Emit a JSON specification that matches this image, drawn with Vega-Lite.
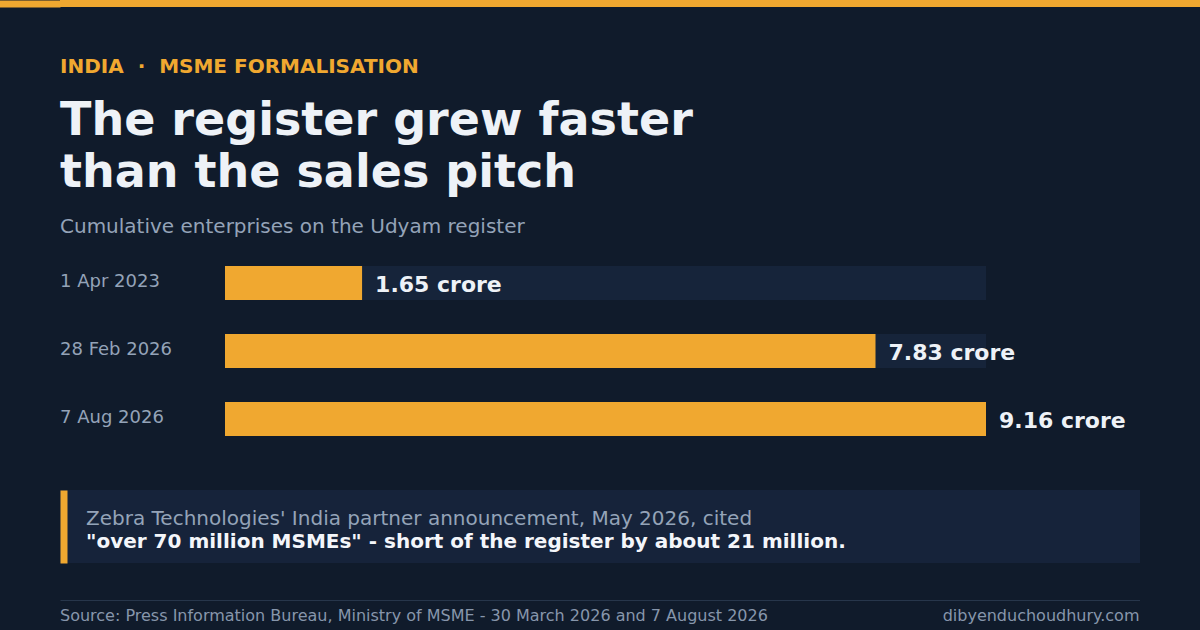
{
  "$schema": "https://vega.github.io/schema/vega-lite/v6.json",
  "background": "#101b2b",
  "padding": {"left": 0, "top": 0, "right": 0, "bottom": 2},
  "config": {"font": "DejaVu Sans", "view": {"stroke": null}},
  "spacing": 50,
  "vconcat": [
    {
      "width": 1140,
      "height": 7,
      "view": {"fill": "#f0a830", "stroke": null},
      "data": {"values": [{}]},
      "mark": {"type": "point", "opacity": 0},
      "encoding": {
        "y": {"datum": 0.5, "type": "quantitative", "scale": {"domain": [0, 1]},
          "axis": {"orient": "left", "offset": 60, "domainWidth": 120, "domainColor": "#f0a830",
            "labels": false, "ticks": false, "grid": false, "title": null}}
      }
    },
    {
      "title": {
        "text": "INDIA\u00a0\u00a0·\u00a0\u00a0MSME FORMALISATION",
        "subtitle": ["The register grew faster", "than the sales pitch"],
        "anchor": "start",
        "color": "#f0a830",
        "fontSize": 20,
        "fontWeight": "bold",
        "subtitleColor": "#eef2f7",
        "subtitleFontSize": 46,
        "subtitleFontWeight": "bold",
        "subtitleLineHeight": 52,
        "subtitlePadding": 22,
        "offset": 21
      },
      "spacing": 37,
      "vconcat": [
        {
          "title": {
            "text": "Cumulative enterprises on the Udyam register",
            "anchor": "start",
            "baseline": "alphabetic",
            "fontSize": 20,
            "fontWeight": "normal",
            "color": "#94a3b8",
            "offset": -4
          },
          "data": {"values": [
            {"date": "1 Apr 2023", "crore": 1.65, "label": "1.65 crore"},
            {"date": "28 Feb 2026", "crore": 7.83, "label": "7.83 crore"},
            {"date": "7 Aug 2026", "crore": 9.16, "label": "9.16 crore"}
          ]},
          "spacing": 0,
          "hconcat": [
            {
              "width": 165,
              "height": 204,
              "mark": {"type": "text", "align": "left", "baseline": "alphabetic", "dy": 4,
                "fontSize": 18, "color": "#94a3b8"},
              "encoding": {
                "y": {"field": "date", "type": "nominal", "sort": null,
                  "scale": {"paddingInner": 0.5, "paddingOuter": 0.25}, "axis": null},
                "x": {"datum": 0, "type": "quantitative", "scale": {"domain": [0, 1]}, "axis": null},
                "text": {"field": "date"}
              }
            },
            {
              "width": 761,
              "height": 204,
              "transform": [{"joinaggregate": [{"op": "max", "field": "crore", "as": "maxc"}]}],
              "encoding": {
                "y": {"field": "date", "type": "nominal", "sort": null,
                  "scale": {"paddingInner": 0.5, "paddingOuter": 0.25}, "axis": null}
              },
              "layer": [
                {
                  "mark": {"type": "bar", "color": "#16243a"},
                  "encoding": {
                    "x": {"field": "maxc", "type": "quantitative", "scale": {"nice": false}, "axis": null}
                  }
                },
                {
                  "mark": {"type": "bar", "color": "#f0a830"},
                  "encoding": {
                    "x": {"field": "crore", "type": "quantitative", "axis": null}
                  }
                },
                {
                  "mark": {"type": "text", "align": "left", "baseline": "alphabetic", "dx": 13, "dy": 8.5,
                    "fontSize": 22, "fontWeight": "bold", "color": "#eef2f7"},
                  "encoding": {
                    "x": {"field": "crore", "type": "quantitative", "axis": null},
                    "text": {"field": "label"}
                  }
                }
              ]
            }
          ]
        },
        {
          "width": 1080,
          "height": 73,
          "view": {"fill": "#16233a", "stroke": null},
          "data": {"values": [
            {"line": 1, "text": "Zebra Technologies' India partner announcement, May 2026, cited"},
            {"line": 2, "text": "\"over 70 million MSMEs\" - short of the register by about 21 million."}
          ]},
          "encoding": {
            "y": {
              "field": "line",
              "type": "ordinal",
              "scale": {"type": "point", "padding": 1},
              "axis": {"title": null, "labels": false, "ticks": false, "grid": false, "domain": true,
                "domainColor": "#f0a830", "domainWidth": 7, "offset": -3.5, "zindex": 1}
            },
            "x": {"datum": 0, "type": "quantitative", "scale": {"domain": [0, 1]}, "axis": null},
            "text": {"field": "text"}
          },
          "layer": [
            {
              "transform": [{"filter": "datum.line === 1"}],
              "mark": {"type": "text", "align": "left", "baseline": "alphabetic", "dx": 26, "dy": 10.7,
                "fontSize": 20, "color": "#94a3b8"}
            },
            {
              "transform": [{"filter": "datum.line === 2"}],
              "mark": {"type": "text", "align": "left", "baseline": "alphabetic", "dx": 26, "dy": 9.3,
                "fontSize": 20, "fontWeight": "bold", "color": "#f4f6fa"}
            }
          ]
        },
        {
          "width": 1079.5,
          "height": 28,
          "data": {"values": [
            {"side": "left", "text": "Source: Press Information Bureau, Ministry of MSME - 30 March 2026 and 7 August 2026"},
            {"side": "right", "text": "dibyenduchoudhury.com"}
          ]},
          "layer": [
            {
              "transform": [{"filter": "datum.side === 'left'"}],
              "mark": {"type": "text", "align": "left", "baseline": "alphabetic", "dy": 7, "fontSize": 16, "color": "#8796ab"},
              "encoding": {
                "x": {"datum": 0, "type": "quantitative", "scale": {"domain": [0, 1]},
                  "axis": {"orient": "top", "labels": false, "ticks": false, "grid": false, "title": null,
                    "domain": true, "domainColor": "#27364b", "domainWidth": 1}},
                "text": {"field": "text"}
              }
            },
            {
              "transform": [{"filter": "datum.side === 'right'"}],
              "mark": {"type": "text", "align": "right", "baseline": "alphabetic", "dy": 7, "fontSize": 16, "color": "#8796ab"},
              "encoding": {
                "x": {"datum": 1, "type": "quantitative", "scale": {"domain": [0, 1]},
                  "axis": {"orient": "top", "labels": false, "ticks": false, "grid": false, "title": null,
                    "domain": true, "domainColor": "#27364b", "domainWidth": 1}},
                "text": {"field": "text"}
              }
            }
          ]
        }
      ]
    }
  ]
}
